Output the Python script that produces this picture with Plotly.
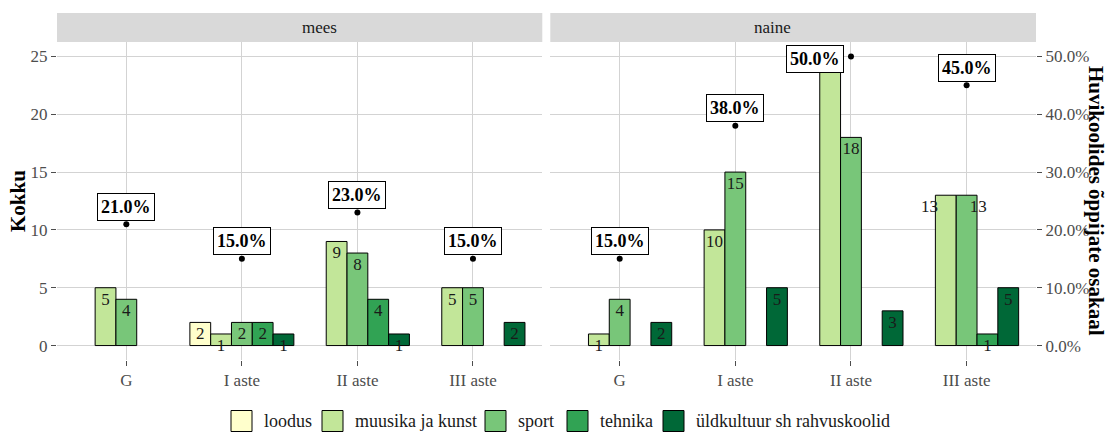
import plotly.graph_objects as go

# ---------------- data ----------------
panels = ["mees", "naine"]
categories = ["G", "I aste", "II aste", "III aste"]
types = ["loodus", "muusika ja kunst", "sport", "tehnika", "üldkultuur sh rahvuskoolid"]

mees_loodus = [None, 2, None, None]
mees_muusika = [5, 1, 9, 5]
mees_sport = [4, 2, 8, 5]
mees_tehnika = [None, 2, 4, None]
mees_yldkultuur = [None, 1, 1, 2]

naine_loodus = [None, None, None, None]
naine_muusika = [1, 10, 25, 13]
naine_sport = [4, 15, 18, 13]
naine_tehnika = [None, None, None, 1]
naine_yldkultuur = [2, 5, 3, 5]

mees_pct = [0.21, 0.15, 0.23, 0.15]
naine_pct = [0.15, 0.38, 0.50, 0.45]

# ---------------- styles ----------------
colors = ["#FFFFCC", "#C2E699", "#78C679", "#31A354", "#006837"]
FONT = "Liberation Serif"
GRID = "#D3D3D3"
TICKC = "#4D4D4D"
TXT = "#1a1a1a"
bar_w = 0.18
slot_offsets = [-0.45 + bar_w * i for i in range(5)]      # left edges of dodge slots
# label nudges imitating ggrepel
text_nudge = {("naine", 1, 3): -0.14, ("naine", 2, 3): 0.10}
pct_label_nudge = {("naine", 2): (-0.31, -0.005)}
# legend key left edges (px) in the figure
legend_key_x = [231, 322, 485, 567, 663]
legend_y_px = 421
key_size = 21

series = {
    "mees": [mees_loodus, mees_muusika, mees_sport, mees_tehnika, mees_yldkultuur],
    "naine": [naine_loodus, naine_muusika, naine_sport, naine_tehnika, naine_yldkultuur],
}
pcts = {"mees": mees_pct, "naine": naine_pct}
axes = {"mees": ("x", "y", "y4"), "naine": ("x2", "y2", "y3")}

fig = go.Figure()
idx = list(range(len(categories)))

for p in panels:
    xa, ya, ypa = axes[p]
    for i, (t, vals) in enumerate(zip(types, series[p])):
        fig.add_trace(go.Bar(
            x=idx, y=vals, name=t, width=bar_w, offset=slot_offsets[i],
            marker=dict(color=colors[i], line=dict(color="black", width=1)),
            xaxis=xa, yaxis=ya, showlegend=False, hoverinfo="skip",
        ))
    # value labels
    tx, ty, tt = [], [], []
    for i, vals in enumerate(series[p]):
        for c, v in enumerate(vals):
            if v is None:
                continue
            tx.append(c + slot_offsets[i] + bar_w / 2 + text_nudge.get((p, i, c), 0))
            ty.append(v - 1.1)
            tt.append(str(v))
    fig.add_trace(go.Scatter(
        x=tx, y=ty, text=tt, mode="text", textposition="middle center",
        textfont=dict(family=FONT, size=17, color=TXT),
        xaxis=xa, yaxis=ya, showlegend=False, hoverinfo="skip",
    ))
    # percentage points
    fig.add_trace(go.Scatter(
        x=idx, y=pcts[p], mode="markers",
        marker=dict(color="black", size=6),
        xaxis=xa, yaxis=ypa, showlegend=False, hoverinfo="skip",
    ))
    for c, v in enumerate(pcts[p]):
        dx, dy = pct_label_nudge.get((p, c), (0, 0.03))
        fig.add_annotation(
            x=c + dx, y=v + dy, xref=xa, yref=ypa, text="<b>%.1f%%</b>" % (v * 100),
            showarrow=False, font=dict(family=FONT, size=18, color="black"),
            bgcolor="white", bordercolor="black", borderwidth=1, borderpad=3,
        )

# ---------------- layout ----------------
W, H = 1107, 434
ml, mr, mt, mb = 57, 71, 42, 74
pw = W - ml - mr
ph = H - mt - mb
d1 = [0, (542.3 - ml) / pw]
d2 = [(550.3 - ml) / pw, 1]
yr = [-1.25, 26.25]
yr_pct = [yr[0] / 50, yr[1] / 50]

xcommon = dict(range=[-0.6, 3.6], tickvals=idx, ticktext=categories, showgrid=True,
               gridcolor=GRID, gridwidth=1, zeroline=False, ticks="outside", ticklen=5,
               tickcolor=TICKC, tickfont=dict(family=FONT, size=17, color=TICKC),
               showline=False, automargin=False)
ycommon = dict(range=yr, showgrid=True, gridcolor=GRID, gridwidth=1, zeroline=False,
               tickvals=[0, 5, 10, 15, 20, 25], showline=False, automargin=False)

fig.update_layout(
    width=W, height=H, margin=dict(l=ml, r=mr, t=mt, b=mb, autoexpand=False),
    plot_bgcolor="white", paper_bgcolor="white", barmode="overlay", showlegend=False,
    font=dict(family=FONT, size=17, color=TXT),
    xaxis=dict(domain=d1, anchor="y", **xcommon),
    xaxis2=dict(domain=d2, anchor="y2", **xcommon),
    yaxis=dict(domain=[0, 1], anchor="x", ticks="outside", ticklen=5, tickcolor=TICKC,
               tickfont=dict(family=FONT, size=17, color=TICKC), **ycommon),
    yaxis2=dict(domain=[0, 1], anchor="x2", showticklabels=False, ticks="", **ycommon),
    yaxis3=dict(overlaying="y2", anchor="x2", side="right", range=yr_pct,
                tickvals=[0, 0.1, 0.2, 0.3, 0.4, 0.5], tickformat=".1%", showgrid=False,
                zeroline=False, ticks="outside", ticklen=5, tickcolor=TICKC, automargin=False,
                tickfont=dict(family=FONT, size=17, color=TICKC)),
    yaxis4=dict(overlaying="y", anchor="x", range=yr_pct, visible=False, automargin=False),
)

# facet strips
strip_top = 1 + (mt - 13) / ph
for p, d in zip(panels, [d1, d2]):
    fig.add_shape(type="rect", xref="paper", yref="paper", x0=d[0], x1=d[1], y0=1.0, y1=strip_top,
                  fillcolor="#D9D9D9", line=dict(width=0), layer="below")
    fig.add_annotation(x=(d[0] + d[1]) / 2, y=(1 + strip_top) / 2, xref="paper", yref="paper",
                       text=p, showarrow=False, font=dict(family=FONT, size=17, color=TXT),
                       yanchor="middle")

# axis titles
fig.add_annotation(x=-(ml - 18) / pw, y=0.5, xref="paper", yref="paper", text="<b>Kokku</b>",
                   textangle=-90, showarrow=False, font=dict(family=FONT, size=21, color="black"),
                   xanchor="center", yanchor="middle")
fig.add_annotation(x=1 + (1096 - (W - mr)) / pw, y=0.5, xref="paper", yref="paper",
                   text="<b>Huvikoolides õppijate osakaal</b>", textangle=90, showarrow=False,
                   font=dict(family=FONT, size=21, color="black"), xanchor="center", yanchor="middle")

# legend (drawn as keys + labels below the panels)
ly = (mt + ph - legend_y_px) / ph
kh = key_size / ph
for t, c, kx in zip(types, colors, legend_key_x):
    x0 = (kx - ml) / pw
    x1 = (kx + key_size - ml) / pw
    fig.add_shape(type="rect", xref="paper", yref="paper", x0=x0, x1=x1,
                  y0=ly - kh / 2, y1=ly + kh / 2, fillcolor=c, line=dict(color="black", width=1))
    fig.add_annotation(x=(kx + key_size + 10 - ml) / pw, y=ly, xref="paper", yref="paper",
                       text=t, showarrow=False, xanchor="left", yanchor="middle",
                       font=dict(family=FONT, size=18, color=TXT))

fig.write_html("out.html", config={"displayModeBar": False},
               post_script="document.body.style.margin='0';")
